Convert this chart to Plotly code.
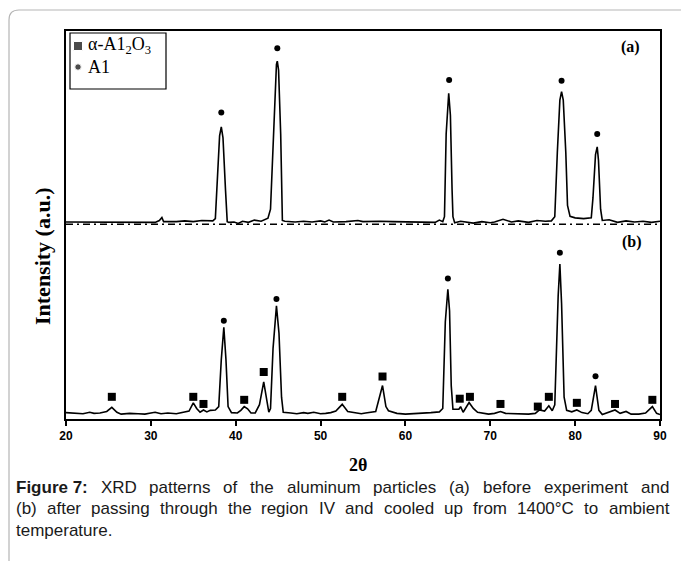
import plotly.graph_objects as go

# ---- XRD pattern (a): as-received aluminium particles (offset trace) ----
two_theta_a = [20, 29.0, 30.5, 31.0, 31.3, 31.5, 33.0, 34.0, 35.0, 36.0, 37.3, 37.6, 37.8, 38.1,
               38.3, 38.5, 38.8, 39.0, 39.2, 39.8, 40.3, 40.8, 41.5, 42.2, 43.0, 43.8, 44.1,
               44.5, 44.8, 44.9, 45.05, 45.3, 45.5, 45.8, 47, 48, 49, 50, 50.5, 51, 51.5, 53,
               54.4, 55, 56, 57, 58.5, 60, 62, 63.5, 64.0, 64.4, 64.6, 64.8, 65.1, 65.3, 65.5,
               65.6, 65.8, 66.5, 68, 69, 70, 70.5, 71.5, 72.5, 73.3, 74.5, 75.5, 76.5, 77.2,
               77.6, 77.9, 78.2, 78.4, 78.6, 78.9, 79.1, 79.4, 80, 81, 81.9, 82.1, 82.4, 82.6,
               82.75, 83.0, 83.2, 84, 85, 86, 87, 88, 89, 90]
intensity_a = [51.6, 51.6, 51.5, 52.0, 52.8, 51.7, 51.7, 51.9, 51.7, 52.0, 51.9, 52.5, 60, 74.5,
               76.9, 74, 60, 51.7, 51.5, 51.6, 51.2, 51.8, 51.5, 52.1, 51.8, 52.6, 55,
               80, 93.5, 94.4, 92, 75, 52, 51.8, 51.6, 51.8, 51.6, 51.9, 51.6, 52.1, 51.6, 51.7,
               52.0, 51.7, 51.8, 51.8, 51.7, 51.6, 51.6, 51.5, 52.1, 51.7, 53, 75, 85.8, 80, 60,
               53, 51.4, 51.8, 51.3, 51.7, 51.4, 51.6, 52.3, 51.6, 51.9, 51.5, 52.0, 51.8, 51.9,
               53, 70, 84, 86.3, 84, 70, 56, 53.1, 52.7, 52.5, 52.7, 58, 69.5, 71.6,
               68, 55, 52.0, 52.2, 51.5, 51.9, 51.6, 51.8, 51.5, 51.8]
baseline_a = 51.0

# ---- XRD pattern (b): after region IV, cooled from 1400 °C ----
two_theta_b = [20, 21, 22, 22.8, 23.3, 24.0, 24.8, 25.4, 26.0, 26.5, 27.5, 28.5, 29.3, 30.0,
               30.5, 31.2, 32.0, 33.0, 33.8, 34.5, 35.0, 35.4, 35.8, 36.2, 36.6, 37.0, 37.6,
               38.0, 38.3, 38.6, 38.85, 39.1, 39.5, 40.2, 40.6, 41.0, 41.4, 41.8, 42.3, 42.8,
               43.3, 43.7, 43.9, 44.1, 44.4, 44.8, 45.1, 45.4, 45.6, 46.5, 47.2, 48, 48.5,
               49.2, 50, 50.6, 51.2, 51.8, 52.55, 53.2, 54, 54.8, 55.3, 56.5, 57.3, 57.7, 58.0,
               59, 60, 61, 62, 63, 64, 64.4, 64.7, 65.0, 65.2, 65.4, 65.6, 66.3, 66.5, 66.8,
               67.5, 68.0, 68.5, 69, 69.8, 70.5, 71.2, 71.8, 72.5, 73.5, 74.5, 75.3, 75.8,
               76.4, 76.9, 77.3, 77.6, 78.0, 78.2, 78.4, 78.7, 79.0, 79.6, 80.2, 80.8, 81.5,
               81.9, 82.4, 82.8, 83.2, 83.8, 84.7, 85.3, 86.0, 86.6, 87.5, 88.3, 89.1, 89.6, 90]
intensity_b = [0.9, 0.7, 0.6, 1.0, 0.7, 0.8, 1.2, 2.3, 1.0, 0.5, 0.7, 0.6, 0.5, 0.8,
               1.0, 0.6, 0.8, 0.6, 0.9, 1.3, 3.5, 2.0, 1.0, 1.6, 1.1, 1.5, 1.6,
               2.5, 15, 23.6, 15, 2.5, 0.9, 0.8, 1.5, 2.5, 1.9, 0.8, 0.8, 3,
               9.1, 4, 1.0, 2, 18, 29.3, 22, 5, 1.0, 0.8, 0.6, 0.9, 0.7,
               1.0, 0.6, 0.7, 0.9, 1.3, 3.1, 1.2, 0.8, 0.6, 0.8, 1.2, 8.1, 2.5, 1.4,
               0.7, 0.5, 0.6, 0.7, 0.9, 1.1, 2.0, 25, 33.7, 28, 8, 1.8, 1.8, 2.5, 1.0,
               3.6, 2.0, 1.0, 0.8, 0.5, 0.7, 1.2, 0.7, 0.6, 0.5, 0.5, 0.7, 1.6,
               1.3, 2.7, 1.4, 3, 32, 40.4, 30, 5, 1.5, 1.1, 1.6, 0.9, 0.6,
               1.5, 8.1, 1.5, 0.4, 0.9, 1.6, 0.7, 1.2, 0.5, 0.5, 0.8, 2.5, 0.7, 0.4]

# ---- Phase markers ----
al_x = [38.3, 44.9, 65.15, 78.4, 82.6, 38.6, 44.8, 65.0, 78.2, 82.4]
al_y = [80.7, 97.8, 89.4, 89.2, 75.0, 25.3, 31.1, 36.6, 43.4, 10.6]
alumina_x = [25.4, 35.0, 36.2, 41.0, 43.3, 52.55, 57.3, 66.4, 67.6, 71.2, 75.6, 76.9, 80.2, 84.7, 89.1]
alumina_y = [5.1, 5.1, 3.2, 4.3, 11.7, 5.1, 10.5, 4.6, 5.1, 3.2, 2.5, 5.1, 3.5, 3.2, 4.3]

x_ticks = [20, 30, 40, 50, 60, 70, 80, 90]
legend_names = ["α-A1<sub>2</sub>O<sub>3</sub>", "A1"]
caption_lines = [
    ["<b>Figure 7:</b>", "XRD", "patterns", "of", "the", "aluminum", "particles", "(a)",
     "before", "experiment", "and"],
    ["(b)", "after", "passing", "through", "the", "region", "IV", "and", "cooled", "up",
     "from", "1400°C", "to", "ambient"],
    ["temperature."],
]

# figure geometry (pixels)
W, H = 681, 561
L, R, T, B = 66, 660, 31, 419


def px(x):
    return (x - L) / (R - L)


def py(y):
    return (B - y) / (B - T)


SERIF = "Liberation Serif, Times New Roman, serif"
SANS = "Liberation Sans, Arial, sans-serif"

# Arial advance widths (1/1000 em) used to justify the caption
_REG = {" ": 278, "(": 333, ")": 333, ".": 278, ":": 278, "°": 400, "C": 722, "D": 722,
        "I": 278, "R": 722, "V": 667, "X": 667, "F": 611, "a": 556, "b": 556, "c": 500,
        "d": 556, "e": 556, "f": 278, "g": 556, "h": 556, "i": 222, "l": 222, "m": 833,
        "n": 556, "o": 556, "p": 556, "r": 333, "s": 500, "t": 278, "u": 556, "v": 500,
        "x": 500, "y": 500, "w": 722, "k": 500}
_BOLD = {" ": 278, "F": 611, "i": 278, "g": 611, "u": 611, "r": 389, "e": 556, ":": 333}


def text_width(s, size):
    bold = s.startswith("<b>")
    s = s.replace("<b>", "").replace("</b>", "")
    table = _BOLD if bold else _REG
    return sum(table.get(c, 556) for c in s) * size / 1000.0


fig = go.Figure()

fig.add_trace(go.Scatter(x=[20, 90], y=[baseline_a, baseline_a], mode="lines",
                         line=dict(color="black", width=1.6, dash="7px,4px,2px,4px"),
                         hoverinfo="skip"))
fig.add_trace(go.Scatter(x=two_theta_a, y=intensity_a, mode="lines",
                         line=dict(color="black", width=1.6)))
fig.add_trace(go.Scatter(x=two_theta_b, y=intensity_b, mode="lines",
                         line=dict(color="black", width=1.6)))
fig.add_trace(go.Scatter(x=alumina_x, y=alumina_y, mode="markers",
                         marker=dict(symbol="square", size=8, color="black"),
                         name=legend_names[0]))
fig.add_trace(go.Scatter(x=al_x, y=al_y, mode="markers",
                         marker=dict(symbol="circle", size=6, color="black"),
                         name=legend_names[1]))

# legend glyphs on an invisible overlay axis spanning the plot area (0..1)
legend_rows = [46, 67]
fig.add_trace(go.Scatter(x=[px(78), px(78)], y=[py(legend_rows[0]), py(legend_rows[1])],
                         mode="markers", xaxis="x2", yaxis="y2", hoverinfo="skip",
                         cliponaxis=False,
                         marker=dict(symbol=["square", "circle"], size=[9, 6.5], color="black")))

# legend frame
fig.add_shape(type="rect", xref="paper", yref="paper", x0=px(70), x1=px(166),
              y0=py(89), y1=py(33), line=dict(color="black", width=1.2))

# rounded card outline around figure and caption
x0, y0, x1, y1, r = px(9), py(10), px(700), py(600), 10
rx, ry = r / (R - L), r / (B - T)
fig.add_shape(type="path", xref="paper", yref="paper",
              path=f"M {x0} {y1} L {x0} {y0 - ry} Q {x0} {y0} {x0 + rx} {y0} L {x1} {y0}",
              line=dict(color="#b5b5b5", width=1.2))


def note(text, x, y, size, family, xanchor="center", angle=0, color="black"):
    return dict(text=text, x=px(x), y=py(y), xref="paper", yref="paper", showarrow=False,
                xanchor=xanchor, yanchor="middle", textangle=angle,
                font=dict(family=family, size=size, color=color))


annotations = [
    note("<b>(a)</b>", 630, 47, 16, SERIF),
    note("<b>(b)</b>", 632, 242, 16, SERIF),
    note("<b>Intensity (a.u.)</b>", 43, 256, 22, SERIF, angle=-90),
    note("<b>2θ</b>", 358, 465, 18, SERIF),
    note(legend_names[0], 86, legend_rows[0], 18, SERIF, xanchor="left"),
    note(legend_names[1], 86, legend_rows[1], 18, SERIF, xanchor="left"),
]

# justified caption, word by word
CAP_SIZE, CAP_LEFT, CAP_RIGHT = 17, 14, 667
for i, words in enumerate(caption_lines):
    y = 487 + 21.5 * i
    widths = [text_width(w, CAP_SIZE) for w in words]
    space = text_width(" ", CAP_SIZE)
    if i < len(caption_lines) - 1 and len(words) > 1:
        gap = (CAP_RIGHT - CAP_LEFT - sum(widths)) / (len(words) - 1)
    else:
        gap = space
    x = CAP_LEFT
    for w, wd in zip(words, widths):
        annotations.append(note(w, x, y, CAP_SIZE, SANS, xanchor="left", color="#1a1a1a"))
        x += wd + gap

fig.update_layout(
    width=W, height=H,
    margin=dict(l=L, r=W - R, t=T, b=H - B, pad=0),
    paper_bgcolor="white", plot_bgcolor="white",
    annotations=annotations,
    showlegend=False,
    xaxis=dict(range=[20, 90], tickvals=x_ticks, ticks="outside", ticklen=5, tickwidth=1.5,
               tickcolor="black", showline=True, linecolor="black", linewidth=1.5, mirror=True,
               showgrid=False, zeroline=False,
               tickfont=dict(family=SANS, size=12, color="black", weight="bold")),
    yaxis=dict(range=[-0.8, 102.4], showticklabels=False, ticks="", showline=True,
               linecolor="black", linewidth=1.5, mirror=True, showgrid=False, zeroline=False),
    xaxis2=dict(overlaying="x", range=[0, 1], visible=False),
    yaxis2=dict(overlaying="y", range=[0, 1], visible=False),
)

fig.write_html("out.html")
